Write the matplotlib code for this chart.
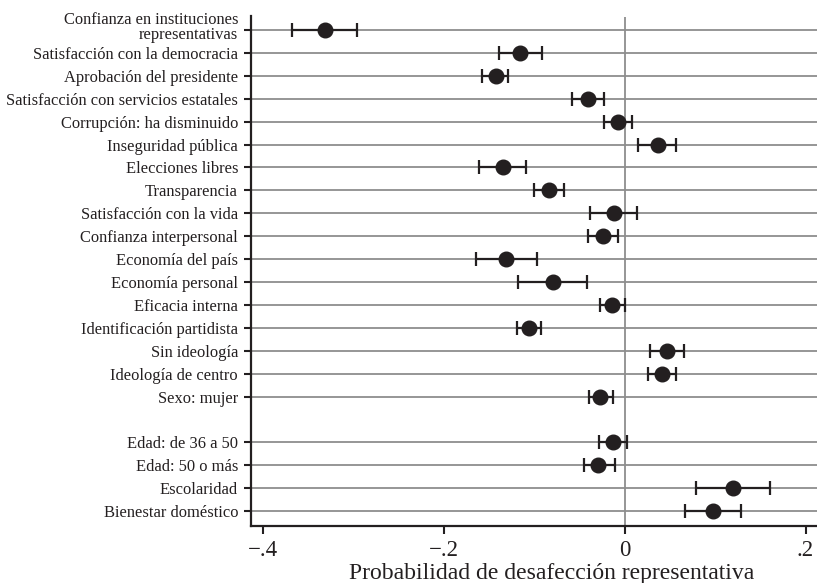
import matplotlib
matplotlib.use("Agg")
import matplotlib.pyplot as plt
import matplotlib.transforms as mtransforms
import numpy as np

labels = [
    "Confianza en instituciones\nrepresentativas",
    "Satisfacción con la democracia",
    "Aprobación del presidente",
    "Satisfacción con servicios estatales",
    "Corrupción: ha disminuido",
    "Inseguridad pública",
    "Elecciones libres",
    "Transparencia",
    "Satisfacción con la vida",
    "Confianza interpersonal",
    "Economía del país",
    "Economía personal",
    "Eficacia interna",
    "Identificación partidista",
    "Sin ideología",
    "Ideología de centro",
    "Sexo: mujer",
    None,
    "Edad: de 36 a 50",
    "Edad: 50 o más",
    "Escolaridad",
    "Bienestar doméstico",
]
estimate = [-0.331, -0.1155, -0.1423, -0.0407, -0.0072, 0.0367, -0.1346, -0.0834,
            -0.012, -0.0238, -0.131, -0.079, -0.0138, -0.1059, 0.047, 0.0411,
            -0.0267, None, -0.013, -0.029, 0.1199, 0.0978]
ci_low = [-0.367, -0.1383, -0.157, -0.058, -0.0223, 0.0153, -0.1608, -0.100,
          -0.0378, -0.0407, -0.1637, -0.1173, -0.0271, -0.1191, 0.0285, 0.026,
          -0.0392, None, -0.0285, -0.0451, 0.0787, 0.0665]
ci_high = [-0.2956, -0.0908, -0.1284, -0.0227, 0.008, 0.0573, -0.1088, -0.0672,
           0.0138, -0.0068, -0.097, -0.0414, 0.0009, -0.0923, 0.0661, 0.0569,
           -0.0124, None, 0.0031, -0.0102, 0.1608, 0.1284]
xticks = [-0.4, -0.2, 0.0, 0.2]
xticklabels = ["\u2212.4", "\u2212.2", "0", ".2"]
xlabel = "Probabilidad de desafección representativa"

plt.rcParams['font.family'] = ['Liberation Serif', 'DejaVu Serif']

fig = plt.figure(figsize=(8.17, 5.83), dpi=100)
ax = fig.add_axes([250.5/817, 1 - 525.7/583, 1 - 250.5/817, (525.7 - 16.5)/583])

ink = '#231f20'
grid = '#8e8e8e'

idx = [i for i, l in enumerate(labels) if l is not None]
ypos = np.array(idx, dtype=float)
est = np.array([estimate[i] for i in idx])
lo = np.array([ci_low[i] for i in idx])
hi = np.array([ci_high[i] for i in idx])

for y in ypos:
    ax.axhline(y, color=grid, lw=1.3, zorder=1)
ax.axvline(0, color=grid, lw=1.3, zorder=1)

ax.errorbar(est, ypos, xerr=[est - lo, hi - est], fmt='o', color=ink,
            ecolor=ink, elinewidth=1.6, capsize=4.8, capthick=1.6,
            markersize=10.5, zorder=3)

ax.set_ylim(21.64, -0.59)
ax.set_xlim(-0.4133, 0.2127)
ax.set_yticks(ypos)
ax.set_yticklabels([labels[i] for i in idx], fontsize=11.9, color=ink,
                   linespacing=0.95)
ax.set_xticks(xticks)
ax.set_xticklabels(xticklabels, fontsize=16.5, color=ink)
ax.set_xlabel(xlabel, fontsize=17, color=ink)
ax.xaxis.set_label_coords(0.531, -0.0735, transform=ax.transAxes)
ax.xaxis.label.set_va('top')

for s in ['top', 'right']:
    ax.spines[s].set_visible(False)
for s in ['left', 'bottom']:
    ax.spines[s].set_linewidth(1.6)
    ax.spines[s].set_color(ink)
ax.tick_params(axis='y', length=5, width=1.5, color=ink, pad=4)
ax.tick_params(axis='x', length=5.5, width=1.5, color=ink, pad=5)

first = ax.yaxis.get_major_ticks()[0].label1
first.set_transform(first.get_transform() +
                    mtransforms.ScaledTranslation(0, 4/100, fig.dpi_scale_trans))

fig.savefig("out.png", dpi=100)
